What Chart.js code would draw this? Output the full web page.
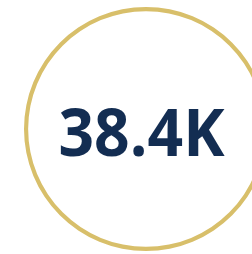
<!DOCTYPE html>
<html>
<head>
<meta charset="utf-8">
<script src="https://cdn.jsdelivr.net/npm/chart.js@4"></script>
<style>
    html, body { margin: 0; padding: 0; background: #ffffff; overflow: hidden; }
    body { width: 252px; height: 254px; position: relative; }
    #ring { position: absolute; left: 24px; top: 7px; }
</style>
</head>
<body>
<canvas id="ring" width="244" height="244"></canvas>
<script>
// 数据
const labels = ['Total'];
const values = [38400];
const ringColor = '#d8bf6a';
const textColor = '#132d52';

// 数值格式 38400 -> 38.4K
function formatK(v) {
    return (v / 1000).toFixed(1) + 'K';
}

// 中心文字插件
const centerText = {
    id: 'centerText',
    afterDraw(chart) {
        const ctx = chart.ctx;
        const arc = chart.getDatasetMeta(0).data[0];
        ctx.save();
        ctx.font = '700 67px "Open Sans"';
        ctx.fillStyle = textColor;
        ctx.textAlign = 'center';
        ctx.textBaseline = 'alphabetic';
        // 字形稍窄一些
        ctx.translate(arc.x - 4.5, arc.y + 27);
        ctx.scale(0.93, 1);
        ctx.fillText(formatK(values[0]), 0, 0);
        ctx.restore();
    }
};

new Chart(document.getElementById('ring'), {
    type: 'doughnut',
    data: {
        labels: labels,
        datasets: [{ data: values, backgroundColor: ringColor, borderWidth: 0 }]
    },
    options: {
        responsive: false,
        animation: false,
        cutout: '96.6%',
        plugins: { legend: { display: false }, tooltip: { enabled: false } }
    },
    plugins: [centerText]
});
</script>
</body>
</html>
